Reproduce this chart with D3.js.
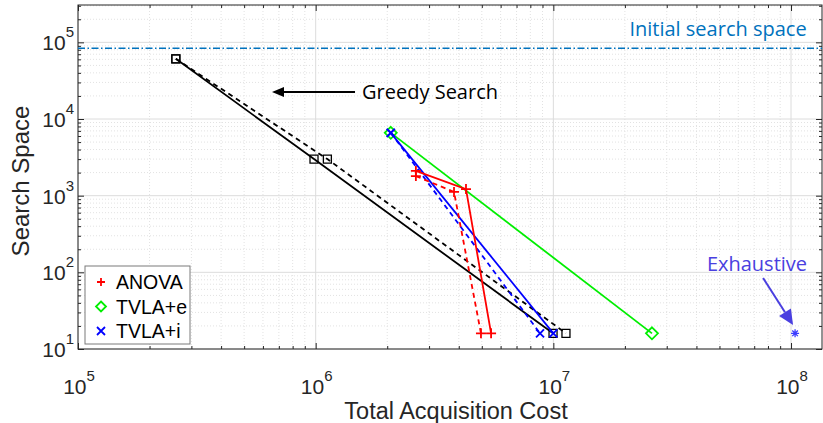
<!DOCTYPE html>
<html>
<head>
<meta charset="utf-8">
<script src="https://cdn.jsdelivr.net/npm/d3@7"></script>
<style>
  body { margin: 0; background: #fff; }
  svg { display: block; }
</style>
</head>
<body>
<div id="chart"></div>
<script>
// data (cost, search space)
var greedyCost = [2.58e5, 9.84e5, 9.97e6];
var greedySpace = [6.1e4, 3.0e3, 16];
var greedyDashCost = [2.58e5, 1.12e6, 1.13e7];
var greedyDashSpace = [6.1e4, 3.0e3, 16];

var anovaCost = [2.64e6, 4.29e6, 5.47e6];
var anovaSpace = [2.1e3, 1.22e3, 16];
var anovaDashCost = [2.64e6, 3.82e6, 4.96e6];
var anovaDashSpace = [1.8e3, 1.12e3, 16];

var tvlaECost = [2.07e6, 2.6e7];
var tvlaESpace = [6.6e3, 16];

var tvlaICost = [2.07e6, 1.0e7];
var tvlaISpace = [6.6e3, 16];
var tvlaIDashCost = [2.07e6, 8.79e6];
var tvlaIDashSpace = [6.6e3, 16];

var exhaustiveCost = [1.04e8];
var exhaustiveSpace = [16];

var initialSpace = 8.4e4;

var xTicks = [1e5, 1e6, 1e7, 1e8];
var yTicks = [1e1, 1e2, 1e3, 1e4, 1e5];
var legendNames = ['ANOVA', 'TVLA+e', 'TVLA+i'];

// set the dimensions of the graph
var width = 823, height = 423;
var plot = { left: 78, right: 822, top: 5, bottom: 349 };

var x = d3.scaleLog().domain([1e5, 1.35e8]).range([plot.left, plot.right]);
var y = d3.scaleLog().domain([10, 3.07e5]).range([plot.bottom, plot.top]);

var svg = d3.select('#chart').append('svg')
  .attr('width', width)
  .attr('height', height)
  .style('font-family', '"Liberation Sans", Arial, sans-serif');

function minors(ticks, lo, hi) {
  var out = [];
  ticks.concat([ticks[ticks.length - 1] * 10]).forEach(function (t) {
    for (var k = 2; k < 10; k++) {
      var v = t * k;
      if (v > lo && v < hi) out.push(v);
    }
  });
  return out;
}
var xMinor = minors(xTicks, 1e5, 1.35e8);
var yMinor = minors(yTicks, 10, 3.07e5);

// grid
var grid = svg.append('g');
grid.selectAll('.xm').data(xMinor).join('line')
  .attr('x1', d => x(d)).attr('x2', d => x(d))
  .attr('y1', plot.top).attr('y2', plot.bottom)
  .attr('stroke', '#e2e2e2').attr('stroke-dasharray', '1,2');
grid.selectAll('.ym').data(yMinor).join('line')
  .attr('y1', d => y(d)).attr('y2', d => y(d))
  .attr('x1', plot.left).attr('x2', plot.right)
  .attr('stroke', '#e2e2e2').attr('stroke-dasharray', '1,2');
grid.selectAll('.xM').data(xTicks).join('line')
  .attr('x1', d => x(d)).attr('x2', d => x(d))
  .attr('y1', plot.top).attr('y2', plot.bottom)
  .attr('stroke', '#dcdcdc');
grid.selectAll('.yM').data(yTicks).join('line')
  .attr('y1', d => y(d)).attr('y2', d => y(d))
  .attr('x1', plot.left).attr('x2', plot.right)
  .attr('stroke', '#dcdcdc');

// axes with inward ticks on all four sides
function tickAxis(axis, vals, size, tr) {
  var g = svg.append('g')
    .attr('transform', tr)
    .call(axis.tickValues(vals).tickSize(-size).tickSizeOuter(0).tickFormat(''));
  g.select('.domain').remove();
  g.selectAll('line').attr('stroke', '#262626');
}
tickAxis(d3.axisBottom(x), xTicks, 6, 'translate(0,' + plot.bottom + ')');
tickAxis(d3.axisBottom(x), xMinor, 3, 'translate(0,' + plot.bottom + ')');
tickAxis(d3.axisTop(x), xTicks, 6, 'translate(0,' + plot.top + ')');
tickAxis(d3.axisTop(x), xMinor, 3, 'translate(0,' + plot.top + ')');
tickAxis(d3.axisLeft(y), yTicks, 6, 'translate(' + plot.left + ',0)');
tickAxis(d3.axisLeft(y), yMinor, 3, 'translate(' + plot.left + ',0)');
tickAxis(d3.axisRight(y), yTicks, 6, 'translate(' + plot.right + ',0)');
tickAxis(d3.axisRight(y), yMinor, 3, 'translate(' + plot.right + ',0)');

svg.append('rect')
  .attr('x', plot.left).attr('y', plot.top)
  .attr('width', plot.right - plot.left).attr('height', plot.bottom - plot.top)
  .attr('fill', 'none').attr('stroke', '#262626').attr('stroke-width', 1);

// tick labels 10^n
function powLabel(sel) {
  sel.append('tspan').text('10');
  sel.append('tspan').attr('dy', -13).style('font-size', '15px')
    .text(d => Math.round(Math.log10(d)));
}
svg.append('g').selectAll('text').data(xTicks).join('text')
  .attr('x', d => x(d) + 1).attr('y', 394)
  .attr('text-anchor', 'middle')
  .style('font-size', '21px').attr('fill', '#262626')
  .call(powLabel);
svg.append('g').selectAll('text').data(yTicks).join('text')
  .attr('x', 74).attr('y', d => y(d) + 8)
  .attr('text-anchor', 'end')
  .style('font-size', '21px').attr('fill', '#262626')
  .call(powLabel);

// axis titles
svg.append('text')
  .attr('x', 456).attr('y', 419)
  .attr('text-anchor', 'middle')
  .style('font-size', '23.5px').attr('fill', '#262626')
  .text('Total Acquisition Cost');
svg.append('text')
  .attr('transform', 'translate(29,181) rotate(-90)')
  .attr('text-anchor', 'middle')
  .style('font-size', '24px').attr('fill', '#262626')
  .text('Search Space');

// initial search space line
svg.append('line')
  .attr('x1', plot.left).attr('x2', plot.right)
  .attr('y1', y(initialSpace)).attr('y2', y(initialSpace))
  .attr('stroke', '#0072BD').attr('stroke-width', 1.5)
  .attr('stroke-dasharray', '7,2.5,1.5,2.5');

// markers
function markerPath(type, cx, cy, s) {
  if (type === 'plus') return 'M' + (cx - s) + ',' + cy + 'H' + (cx + s) + 'M' + cx + ',' + (cy - s) + 'V' + (cy + s);
  if (type === 'cross') return 'M' + (cx - s) + ',' + (cy - s) + 'L' + (cx + s) + ',' + (cy + s) + 'M' + (cx - s) + ',' + (cy + s) + 'L' + (cx + s) + ',' + (cy - s);
  if (type === 'diamond') return 'M' + cx + ',' + (cy - s) + 'L' + (cx + s) + ',' + cy + 'L' + cx + ',' + (cy + s) + 'L' + (cx - s) + ',' + cy + 'Z';
  if (type === 'square') return 'M' + (cx - s) + ',' + (cy - s) + 'h' + (2 * s) + 'v' + (2 * s) + 'h' + (-2 * s) + 'Z';
  if (type === 'star') {
    var t = s * 0.7;
    return markerPath('plus', cx, cy, s) + markerPath('cross', cx, cy, t);
  }
}

var line = d3.line().x(d => x(d[0])).y(d => y(d[1]));

function series(cost, space, color, dash, marker, size, mw) {
  var pts = d3.zip(cost, space);
  svg.append('path')
    .datum(pts)
    .attr('d', line)
    .attr('fill', 'none')
    .attr('stroke', color)
    .attr('stroke-width', 1.8)
    .attr('stroke-dasharray', dash);
  svg.append('g').selectAll('path').data(pts).join('path')
    .attr('d', d => markerPath(marker, x(d[0]), y(d[1]), size))
    .attr('fill', 'none')
    .attr('stroke', color)
    .attr('stroke-width', mw);
}

series(greedyCost, greedySpace, '#000', null, 'square', 4, 1.3);
series(greedyDashCost, greedyDashSpace, '#000', '5,4', 'square', 4, 1.3);
series(tvlaECost, tvlaESpace, '#00ee00', null, 'diamond', 6, 1.8);
series(tvlaIDashCost, tvlaIDashSpace, '#0000ff', '5,4', 'cross', 4, 1.8);
series(tvlaICost, tvlaISpace, '#0000ff', null, 'cross', 4, 1.8);
series(anovaDashCost, anovaDashSpace, '#ff0000', '5,4', 'plus', 5, 1.8);
series(anovaCost, anovaSpace, '#ff0000', null, 'plus', 5, 1.8);

svg.append('g').selectAll('path').data(d3.zip(exhaustiveCost, exhaustiveSpace)).join('path')
  .attr('d', d => markerPath('star', x(d[0]), y(d[1]), 4))
  .attr('fill', 'none').attr('stroke', '#3b3bff').attr('stroke-width', 1.3);

// annotations
function arrow(x1, y1, x2, y2, color, len, half) {
  var dx = x2 - x1, dy = y2 - y1, L = Math.sqrt(dx * dx + dy * dy);
  var ux = dx / L, uy = dy / L;
  var bx = x2 - ux * len, by = y2 - uy * len;
  svg.append('line')
    .attr('x1', x1).attr('y1', y1).attr('x2', bx).attr('y2', by)
    .attr('stroke', color).attr('stroke-width', 2);
  svg.append('path')
    .attr('d', 'M' + x2 + ',' + y2 + 'L' + (bx - uy * half) + ',' + (by + ux * half) +
      'L' + (bx + uy * half) + ',' + (by - ux * half) + 'Z')
    .attr('fill', color);
}

var noteFont = '"Open Sans", "Noto Sans", sans-serif';

arrow(x(1.464e6), y(2.25e4), x(6.55e5), y(2.25e4), '#000', 12, 5);
svg.append('text')
  .attr('x', x(1.567e6)).attr('y', y(1.82e4))
  .style('font-family', noteFont).style('font-size', '20px')
  .attr('fill', '#000')
  .text('Greedy Search');

svg.append('text')
  .attr('x', x(4.93e7)).attr('y', y(1.21e5))
  .attr('text-anchor', 'middle')
  .style('font-family', noteFont).style('font-size', '20px')
  .attr('fill', '#0072BD')
  .text('Initial search space');

svg.append('text')
  .attr('x', x(7.19e7)).attr('y', y(104))
  .attr('text-anchor', 'middle')
  .style('font-family', noteFont).style('font-size', '20px')
  .attr('fill', '#4a3fe0')
  .text('Exhaustive');
arrow(x(7.63e7), y(84.3), x(1.02e8), y(20.6), '#4a3fe0', 15, 7);

// legend
var legendColors = ['#ff0000', '#00ee00', '#0000ff'];
var legendMarkers = ['plus', 'diamond', 'cross'];
var legend = svg.append('g');
legend.append('rect')
  .attr('x', 85).attr('y', 266).attr('width', 105).attr('height', 78)
  .attr('fill', '#fff').attr('stroke', '#7a7a7a').attr('stroke-width', 1);
legendNames.forEach(function (name, i) {
  var cy = 282 + i * 24.5;
  legend.append('path')
    .attr('d', markerPath(legendMarkers[i], 101, cy, i === 1 ? 5 : 4))
    .attr('fill', 'none').attr('stroke', legendColors[i]).attr('stroke-width', 1.8);
  legend.append('text')
    .attr('x', 116).attr('y', cy + 7)
    .style('font-size', '19.5px').attr('fill', '#000')
    .text(name);
});
</script>
</body>
</html>
